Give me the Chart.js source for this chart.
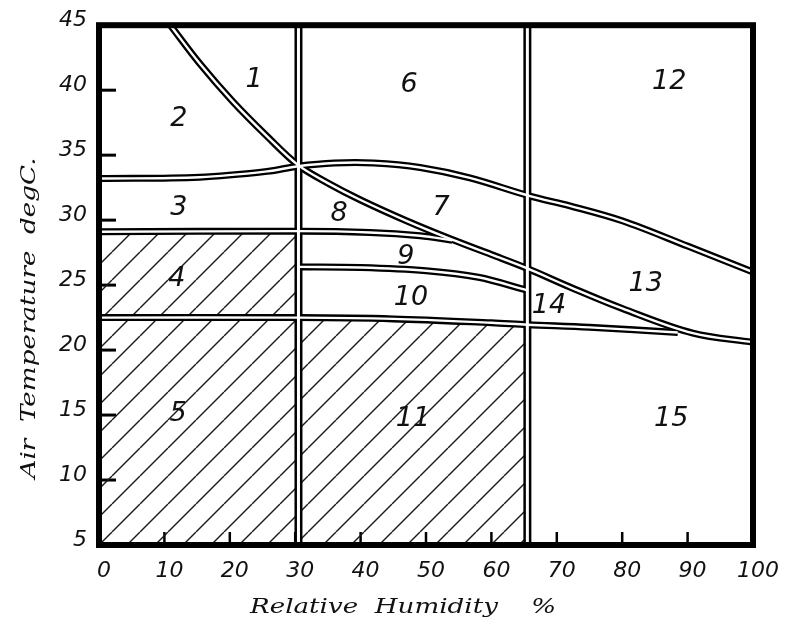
<!DOCTYPE html>
<html>
<head>
<meta charset="utf-8">
<script src="https://cdn.jsdelivr.net/npm/chart.js@4.4.1/dist/chart.umd.min.js"></script>
<style>
  html, body { margin: 0; padding: 0; background: #fff; }
  canvas { display: block; }
</style>
</head>
<body>
<canvas id="chart" width="794" height="622"></canvas>
<script>
// Axis ticks
const RH_TICKS = [0, 10, 20, 30, 40, 50, 60, 70, 80, 90, 100];
const TEMP_TICKS = [5, 10, 15, 20, 25, 30, 35, 40, 45];

// Vertical humidity divides (relative humidity, %)
const DIVIDES_RH = [30.5, 65.5];

// Boundary curves: relative humidity (%) and air temperature (degC)
// zones 1/2, then 7/8, 7/9, 13/14 and 13/15
const lineA_rh = [10.9, 15.4, 20.5, 25.7, 30.4, 35, 40, 47, 54, 60, 65.4, 72, 80, 90.8, 100];
const lineA_t  = [45.0, 42.05, 39.1, 36.45, 34.25, 32.85, 31.55, 29.95, 28.5, 27.35, 26.3, 24.85, 23.2, 21.3, 20.6];
// zones 2/3, 6/7, 12/13
const lineB_rh = [0, 15.4, 25.7, 30.4, 36.0, 42.0, 49.1, 56.7, 65.9, 72, 80, 90, 100];
const lineB_t  = [33.2, 33.3, 33.75, 34.15, 34.4, 34.4, 34.05, 33.25, 31.85, 31.1, 29.95, 28.0, 26.0];
// zones 3/4, 8/9
const lineD_rh = [0, 30.5, 41.4, 49.1, 54];
const lineD_t  = [29.1, 29.15, 29.05, 28.8, 28.45];
// zones 9/10
const lineE_rh = [30.5, 40, 50, 58, 65.5];
const lineE_t  = [26.4, 26.35, 26.1, 25.6, 24.6];
// zones 4/5, 10/11, 14/15
const lineC_rh = [0, 30.5, 45, 60, 65.5, 75, 88.5];
const lineC_t  = [22.5, 22.5, 22.4, 22.1, 21.95, 21.75, 21.35];

// Zone numbers and where they sit (relative humidity, temperature)
const ZONE_NAMES = ['1', '2', '3', '4', '5', '6', '7', '8', '9', '10', '11', '12', '13', '14', '15'];
const ZONE_RH    = [23.7, 12.2, 12.2, 11.9, 12.1, 47.4, 52.3, 36.7, 46.9, 47.7, 48.0, 87.2, 83.6, 68.8, 87.5];
const ZONE_T     = [40.8, 37.8, 30.9, 25.5, 15.1, 40.4, 30.9, 30.5, 27.2, 24.0, 14.7, 40.6, 25.1, 23.4, 14.7];

const TEMP_MIN = 5, TEMP_MAX = 45;
const SMOOTH = 0.35;

const toPoints = (xs, ys) => xs.map((x, i) => ({ x, y: ys[i] }));

const canvas = document.getElementById('chart');
const ctx = canvas.getContext('2d');

// 45-degree hatching for the shaded zones
function hatchPattern() {
  const s = 28;
  const tile = document.createElement('canvas');
  tile.width = s; tile.height = s;
  const g = tile.getContext('2d');
  g.strokeStyle = '#1a1a1a';
  g.lineWidth = 1.4;
  for (const k of [-1, 0, 1]) {
    g.beginPath();
    g.moveTo(k * s, s);
    g.lineTo(k * s + s, 0);
    g.stroke();
  }
  return ctx.createPattern(tile, 'repeat');
}
const hatch = hatchPattern();

const curves = [
  toPoints(lineA_rh, lineA_t),
  toPoints(lineB_rh, lineB_t),
  toPoints(lineD_rh, lineD_t),
  toPoints(lineE_rh, lineE_t),
  toPoints(lineC_rh, lineC_t)
];
const verticals = DIVIDES_RH.map(rh => [{ x: rh, y: TEMP_MIN }, { x: rh, y: TEMP_MAX }]);

const datasets = [];

// Hatched zones 4+5 (below the 3/4 boundary, left of the first divide) and 11
datasets.push({
  data: toPoints(lineD_rh.slice(0, 2), lineD_t.slice(0, 2)),
  fill: 'start', backgroundColor: hatch, borderWidth: 0, pointRadius: 0, order: 3, tension: 0
});
datasets.push({
  data: toPoints(lineC_rh, lineC_t).filter(p => p.x >= DIVIDES_RH[0] && p.x <= DIVIDES_RH[1]),
  fill: 'start', backgroundColor: hatch, borderWidth: 0, pointRadius: 0, order: 3, tension: SMOOTH
});

// Each boundary is a double rule: a wide black stroke with a white core
function doubleRule(points, tension, outer, inner) {
  const common = {
    data: points, fill: false, pointRadius: 0, tension,
    borderCapStyle: 'butt', borderJoinStyle: 'round'
  };
  datasets.push(Object.assign({}, common, { borderColor: '#000', borderWidth: outer, order: 2 }));
  datasets.push(Object.assign({}, common, { borderColor: '#fff', borderWidth: inner, order: 1 }));
}
verticals.forEach(v => doubleRule(v, 0, 8, 3));
curves.forEach(c => doubleRule(c, SMOOTH, 7, 2.4));

function stretchedText(c, text, cx, cy, width, rot) {
  c.save();
  c.translate(cx, cy);
  c.rotate(rot);
  const w = c.measureText(text).width;
  c.scale(width / w, 1);
  c.textAlign = 'center';
  c.textBaseline = 'alphabetic';
  c.fillText(text, 0, 0);
  c.restore();
}

const decor = {
  id: 'decor',
  beforeDatasetsDraw(chart) {
    const { ctx: c, chartArea: a, scales: { x, y } } = chart;
    c.save();
    c.strokeStyle = '#000';
    c.lineWidth = 3;
    TEMP_TICKS.slice(1, -1).forEach(v => {
      const py = y.getPixelForValue(v);
      c.beginPath(); c.moveTo(a.left, py); c.lineTo(a.left + 17, py); c.stroke();
    });
    c.lineWidth = 2.5;
    RH_TICKS.slice(1, -1).forEach(v => {
      const px = x.getPixelForValue(v);
      c.beginPath(); c.moveTo(px, a.bottom); c.lineTo(px, a.bottom - 13); c.stroke();
    });
    c.restore();
  },
  afterDatasetsDraw(chart) {
    const { ctx: c, chartArea: a, scales: { x, y } } = chart;
    c.save();
    // heavy frame
    c.strokeStyle = '#000';
    c.lineWidth = 6;
    c.strokeRect(a.left, a.top, a.right - a.left, a.bottom - a.top);
    // zone numbers
    c.fillStyle = '#111';
    c.font = 'italic 27px "DejaVu Sans"';
    c.textAlign = 'center';
    c.textBaseline = 'middle';
    ZONE_NAMES.forEach((n, i) => {
      c.fillText(n, x.getPixelForValue(ZONE_RH[i]), y.getPixelForValue(ZONE_T[i]));
    });
    c.restore();
  },
  afterDraw(chart) {
    const c = chart.ctx;
    c.save();
    c.fillStyle = '#111';
    c.font = 'italic 21px "DejaVu Serif"';
    stretchedText(c, 'Air  Temperature  degC.', 35, 318, 321, -Math.PI / 2);
    stretchedText(c, 'Relative  Humidity    %', 403, 613, 306, 0);
    c.restore();
  }
};

const tickFont = { family: '"DejaVu Sans"', size: 22, style: 'italic' };

new Chart(ctx, {
  type: 'line',
  data: { datasets },
  options: {
    responsive: false,
    animation: false,
    events: [],
    layout: { padding: { top: 25, right: 41, bottom: 0, left: 0 } },
    plugins: { legend: { display: false }, tooltip: { enabled: false } },
    scales: {
      x: {
        type: 'linear', min: 0, max: 100,
        afterBuildTicks: s => { s.ticks = RH_TICKS.map(v => ({ value: v })); },
        afterFit: s => { s.height = 77; },
        grid: { display: false, drawTicks: false },
        border: { display: false },
        ticks: { color: '#111', font: tickFont, padding: 13, labelOffset: 5, maxRotation: 0, autoSkip: false }
      },
      y: {
        type: 'linear', min: TEMP_MIN, max: TEMP_MAX,
        afterBuildTicks: s => { s.ticks = TEMP_TICKS.map(v => ({ value: v })); },
        afterFit: s => { s.width = 99; },
        grid: { display: false, drawTicks: false },
        border: { display: false },
        ticks: { color: '#111', font: tickFont, padding: 12, labelOffset: -5, autoSkip: false }
      }
    }
  },
  plugins: [decor]
});
</script>
</body>
</html>
